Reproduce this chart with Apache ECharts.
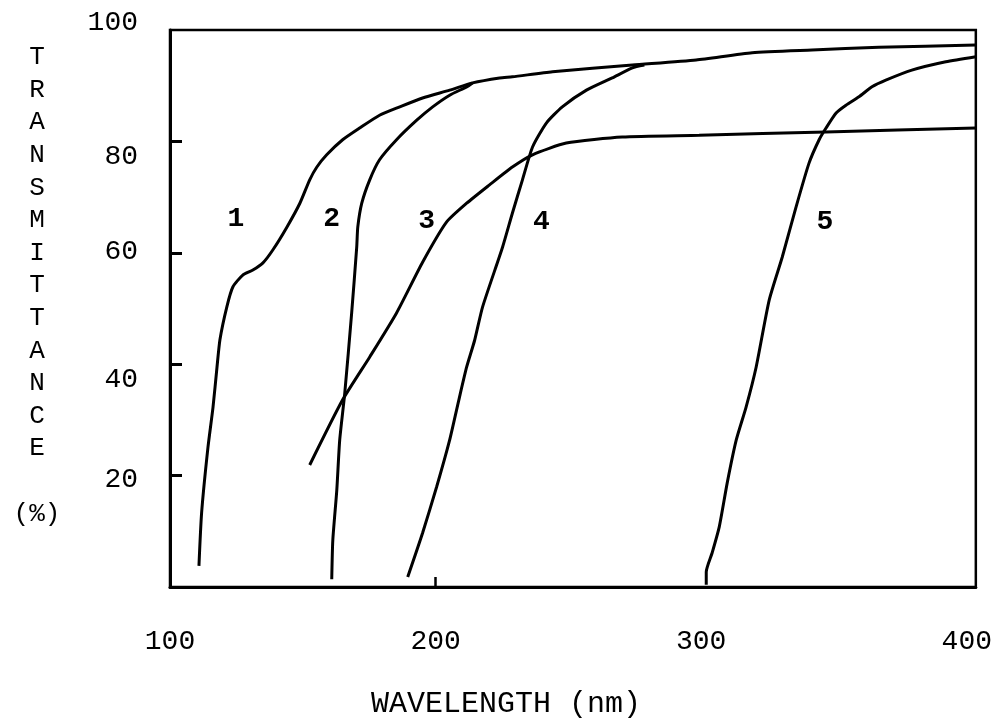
<!DOCTYPE html>
<html>
<head>
<meta charset="utf-8">
<script src="https://cdn.jsdelivr.net/npm/echarts@6/dist/echarts.min.js"></script>
<style>
html,body{margin:0;padding:0;background:#fff;}
#chart{width:995px;height:721px;}
</style>
</head>
<body>
<div id="chart"></div>
<script>
// ---- data (wavelength nm, transmittance %) ----
const curve1 = [[110.9,3.8],[111.9,13.3],[114.3,25.1],[116.2,32.3],[117.7,39.5],[118.8,44.4],[121.4,50.3],[123.7,53.9],[127.4,56.0],[131.2,56.9],[135.0,58.2],[138.7,60.5],[144.0,64.6],[148.9,68.9],[152.6,73.1],[155.3,75.4],[159.0,77.6],[165.0,80.3],[171.4,82.4],[178.9,84.7],[186.5,86.2],[195.1,87.8],[205.3,89.2],[213.9,90.5],[224.1,91.4],[228.9,91.6],[244.0,92.5],[274.1,93.7],[298.1,94.6],[319.2,95.9],[341.7,96.4],[366.9,96.9],[403.4,97.3]];
const curve2 = [[160.9,1.4],[161.3,8.4],[162.8,17.4],[163.9,26.4],[165.8,34.8],[168.4,49.2],[170.3,61.0],[170.7,64.6],[172.2,68.9],[175.2,73.1],[178.9,76.7],[185.3,80.3],[192.9,83.8],[198.9,86.2],[205.3,88.3],[211.7,89.8],[213.9,90.5]];
const curve3 = [[152.6,21.9],[165.0,33.6],[175.2,41.3],[185.3,49.2],[195.1,58.3],[204.1,65.5],[211.7,68.9],[220.3,72.2],[228.9,75.4],[236.5,77.6],[249.2,79.7],[270.3,80.8],[299.2,81.1],[347.0,81.7],[403.4,82.4]];
const curve4 = [[189.5,1.8],[195.1,9.7],[200.4,18.0],[205.3,26.4],[209.0,34.1],[211.7,39.5],[214.7,44.3],[217.7,50.3],[225.2,61.0],[228.9,67.1],[232.7,73.1],[236.5,79.0],[241.7,83.3],[247.7,86.2],[256.8,89.2],[266.5,91.4],[274.1,93.2],[278.6,93.7]];
const curve5 = [[301.9,0.4],[301.9,2.7],[304.1,6.1],[306.8,10.8],[309.8,18.7],[313.2,26.4],[316.9,32.3],[320.7,39.5],[325.6,51.5],[330.5,59.2],[335.7,68.2],[340.6,76.1],[344.4,80.3],[347.0,82.4],[350.8,85.1],[354.5,86.5],[359.4,88.0],[364.3,89.8],[369.5,91.0],[379.3,92.8],[392.1,94.3],[403.4,95.2]];
const curveNames = ['1','2','3','4','5'];
const curveLabelPos = [[124.8,66.1],[160.9,66.1],[196.6,65.7],[239.8,65.5],[346.6,65.5]];
const xTickLabels = [100,200,300,400];
const xTickMarks = [200];
const yTickLabels = [20,40,60,80,100];
const yTickMarks = [20,40,60,80];
const xTitle = 'WAVELENGTH (nm)';
const yTitleLetters = ['T','R','A','N','S','M','I','T','T','A','N','C','E'];
const yUnit = '(%)';

const FONT = '"Liberation Mono", "DejaVu Sans Mono", monospace';
const chart = echarts.init(document.getElementById('chart'));
const curves = [curve1, curve2, curve3, curve4, curve5];

const series = curves.map((c, i) => ({
  type: 'line', name: curveNames[i], data: c, showSymbol: false, smooth: 0.2,
  lineStyle: {color: '#000', width: 3}, silent: true, z: 3
}));
series.push({
  type: 'scatter', name: 'labels', symbolSize: 0, silent: true, z: 4,
  itemStyle: {color: '#000', opacity: 1},
  data: curveLabelPos.map((p, i) => ({value: p, name: curveNames[i]})),
  label: {show: true, position: 'inside', formatter: p => p.name,
          fontFamily: FONT, fontSize: 28, color: '#000', opacity: 1,
          textBorderWidth: 0, fontWeight: 'bold'}
});

chart.setOption({
  animation: false,
  backgroundColor: '#fff',
  grid: {left: 170, top: 30, right: 18, bottom: 134, show: true,
         borderColor: '#000', borderWidth: 2.5, containLabel: false},
  xAxis: {
    type: 'value', min: 100, max: 403.4, interval: 100,
    axisLine: {show: true, lineStyle: {color: '#000', width: 3}},
    axisTick: {show: true, inside: true, length: 10, customValues: xTickMarks,
               lineStyle: {color: '#000', width: 2.5}},
    axisLabel: {show: true, margin: 41, customValues: xTickLabels,
                fontFamily: FONT, fontSize: 28, color: '#000'},
    splitLine: {show: false}
  },
  yAxis: {
    type: 'value', min: 0, max: 100, interval: 20,
    axisLine: {show: true, lineStyle: {color: '#000', width: 3}},
    axisTick: {show: true, inside: true, length: 12, customValues: yTickMarks,
               lineStyle: {color: '#000', width: 3}},
    axisLabel: {show: true, margin: 32, customValues: yTickLabels,
                fontFamily: FONT, fontSize: 28, color: '#000',
                formatter: v => '{s' + v + '|' + v + '}',
                rich: {
                  s100: {fontFamily: FONT, fontSize: 28, color: '#000', padding: [0,0,14,0]},
                  s80: {fontFamily: FONT, fontSize: 28, color: '#000', padding: [30,0,0,0]},
                  s60: {fontFamily: FONT, fontSize: 28, color: '#000', padding: [0,0,2,0]},
                  s40: {fontFamily: FONT, fontSize: 28, color: '#000', padding: [30,0,0,0]},
                  s20: {fontFamily: FONT, fontSize: 28, color: '#000', padding: [8,0,0,0]}
                }},
    splitLine: {show: false}
  },
  graphic: [
    {type: 'text', x: 506, y: 704, silent: true,
     style: {text: xTitle, font: '30px ' + FONT, fill: '#000', align: 'center', verticalAlign: 'middle'}},
    {type: 'text', x: 37, y: 41, silent: true,
     style: {text: yTitleLetters.join('\n') + '\n\n' + yUnit, font: '26px ' + FONT, fill: '#000',
             align: 'center', verticalAlign: 'top', lineHeight: 32.6}}
  ],
  series: series
});
</script>
</body>
</html>
